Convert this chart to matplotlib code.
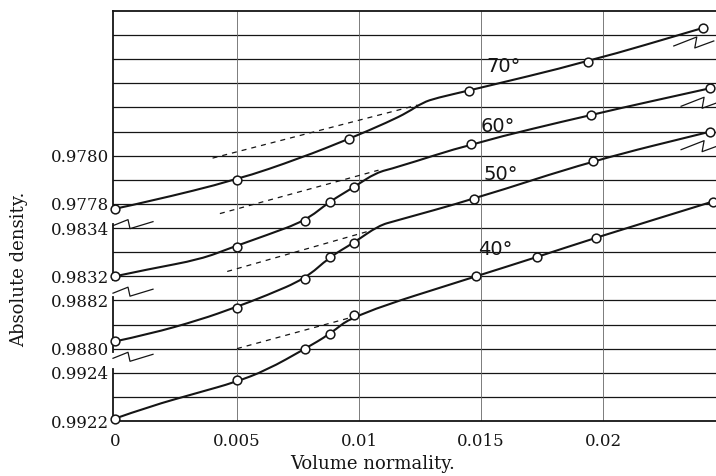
import numpy as np
import matplotlib.pyplot as plt
from matplotlib.path import Path
from matplotlib.patches import PathPatch

# each temperature has its own density scale stacked on one grid
temps = [40, 50, 60, 70]
scale_base = [0.9922, 0.9880, 0.9832, 0.9778]  # density at lowest labelled line of the scale
scale_row = [0, 3, 6, 9]                        # grid row of that line
step = 0.0001                                   # density per grid row

# measured points (open circles)
x40 = [0, 0.005, 0.0078, 0.0088, 0.0098, 0.0148, 0.0173, 0.0197, 0.0245]
d40 = [0.99221, 0.99237, 0.99250, 0.99256, 0.99264, 0.99280, 0.99288, 0.99296, 0.99311]
x50 = [0, 0.005, 0.0078, 0.0088, 0.0098, 0.0147, 0.0196, 0.0244]
d50 = [0.98803, 0.98817, 0.98829, 0.98838, 0.98844, 0.98862, 0.98878, 0.98890]
x60 = [0, 0.005, 0.0078, 0.0088, 0.0098, 0.0146, 0.0195, 0.0244]
d60 = [0.98320, 0.98332, 0.98343, 0.98351, 0.98357, 0.98375, 0.98387, 0.98398]
x70 = [0, 0.005, 0.0096, 0.0145, 0.0194, 0.0241]
d70 = [0.97778, 0.97790, 0.97807, 0.97827, 0.97839, 0.97853]

# drawn curves
cx40 = [0, 0.0014, 0.0035, 0.0049, 0.0062, 0.0078, 0.0088, 0.0098, 0.0148, 0.0173, 0.0197, 0.0245]
cd40 = [0.99221, 0.99226, 0.99232, 0.99236, 0.99241, 0.99250, 0.99256, 0.99264, 0.99280, 0.99288, 0.99296, 0.99311]
cx50 = [0, 0.0014, 0.0035, 0.0049, 0.0062, 0.0078, 0.0088, 0.0098, 0.0108, 0.0115, 0.0147, 0.0196, 0.0244]
cd50 = [0.98803, 0.98806, 0.98812, 0.98817, 0.98822, 0.98829, 0.98838, 0.98844, 0.98851, 0.98853, 0.98862, 0.98878, 0.98890]
cx60 = [0, 0.0014, 0.0035, 0.0048, 0.0062, 0.0078, 0.0088, 0.0098, 0.0107, 0.0115, 0.0146, 0.0195, 0.0244]
cd60 = [0.98320, 0.98323, 0.98327, 0.98332, 0.98337, 0.98343, 0.98351, 0.98357, 0.98363, 0.98365, 0.98375, 0.98387, 0.98398]
cx70 = [0, 0.0014, 0.0050, 0.0076, 0.0096, 0.0112, 0.0120, 0.0126, 0.0132, 0.0145, 0.0194, 0.0241]
cd70 = [0.97778, 0.97781, 0.97790, 0.97799, 0.97807, 0.97814, 0.97818, 0.97822, 0.97824, 0.97827, 0.97839, 0.97853]

# dashed extrapolations of the straight parts
ex40 = [0.0050, 0.0097]
ed40 = [0.99250, 0.99263]
ex50 = [0.0046, 0.0105]
ed50 = [0.98832, 0.98849]
ex60 = [0.0043, 0.0108]
ed60 = [0.98346, 0.98364]
ex70 = [0.0040, 0.0124]
ed70 = [0.97799, 0.97821]

xticks = [0, 0.005, 0.01, 0.015, 0.02]
xticklabels = ["0", "0.005", "0.01", "0.015", "0.02"]

points = [(x40, d40), (x50, d50), (x60, d60), (x70, d70)]
curves = [(cx40, cd40), (cx50, cd50), (cx60, cd60), (cx70, cd70)]
dashes = [(ex40, ed40), (ex50, ed50), (ex60, ed60), (ex70, ed70)]
label_at = [(0.0149, 7.1), (0.0151, 10.2), (0.0150, 12.2), (0.0152, 14.7)]


def to_row(d, i):
    return (np.asarray(d) - scale_base[i]) / step + scale_row[i]


fig = plt.figure(figsize=(7.16, 4.76), dpi=100)
ax = fig.add_axes([113 / 716, 55 / 476, 603 / 716, 410 / 476])
xmin, xmax = -0.00008, 0.02463
ax.set_xlim(xmin, xmax)
ax.set_ylim(0, 17)
px_x = (xmax - xmin) / 603
px_y = 17 / 410

ink = "#151515"

# ruled lines
for r in range(1, 17):
    ax.axhline(r, color=ink, lw=0.9, zorder=1)
for xv in xticks[1:]:
    ax.axvline(xv, color="#666666", lw=0.6, zorder=1)

for s in ["left", "right"]:
    ax.spines[s].set_visible(False)
for s in ["top", "bottom"]:
    ax.spines[s].set_color(ink)
    ax.spines[s].set_linewidth(1.3)

# broken left axis, one piece per scale
for lo, hi in [(0, 2.15), (2.85, 5.15), (5.85, 8.15), (8.85, 17)]:
    ax.plot([xmin, xmin], [lo, hi], color=ink, lw=1.3, clip_on=False, zorder=3)


def zigzag(x0, r0, shape):
    xs = [x0 + sx * px_x for sx, sy in shape]
    ys = [r0 + sy * px_y for sx, sy in shape]
    ax.plot(xs, ys, color=ink, lw=0.9, clip_on=False, zorder=3)


def smooth_curve(xs, ys):
    # hand-drawn look: trace points act as quadratic control points
    pts = list(zip(xs, ys))
    verts = [pts[0]]
    codes = [Path.MOVETO]
    for k in range(1, len(pts) - 1):
        mid = ((pts[k][0] + pts[k + 1][0]) / 2, (pts[k][1] + pts[k + 1][1]) / 2)
        verts += [pts[k], mid]
        codes += [Path.CURVE3, Path.CURVE3]
    verts.append(pts[-1])
    codes.append(Path.LINETO)
    ax.add_patch(PathPatch(Path(verts, codes), fill=False, ec=ink, lw=1.5,
                           zorder=4, clip_on=False))


left_zig = [(0, 0), (15, 6), (17, -3), (40, 4)]
right_zig = [(0, 0), (23, 9), (21, -2), (40, 5)]

for i, t in enumerate(temps):
    cx, cd = curves[i]
    smooth_curve(cx, to_row(cd, i))
    ex, ed = dashes[i]
    ax.plot(ex, to_row(ed, i), color=ink, lw=0.9, ls=(0, (4, 4)), zorder=3)
    px, pd = points[i]
    ax.plot(px, to_row(pd, i), "o", ms=6.3, mfc="white", mec=ink, mew=1.1,
            zorder=5, clip_on=False)
    lx, ly = label_at[i]
    ax.text(lx, ly, f"{t}°", fontsize=14, family="DejaVu Sans", color=ink,
            va="center", ha="left", zorder=6)
    if i > 0:
        zigzag(xmin, to_row(pd[0], i) - 0.7, left_zig)
        zigzag(px[-1] - 0.0012, to_row(pd[-1], i) - 0.75, right_zig)

# tick labels for each stacked scale
yt, ytl = [], []
for i in range(len(temps)):
    for k in (0, 2):
        yt.append(scale_row[i] + k)
        ytl.append(f"{scale_base[i] + k * step:.4f}")
ax.set_yticks(yt)
ax.set_yticklabels(ytl)
ax.set_xticks(xticks)
ax.set_xticklabels(xticklabels)
ax.tick_params(length=0, labelsize=12, colors=ink)
ax.tick_params(axis="y", pad=3)
ax.tick_params(axis="x", pad=9)
for lab in ax.get_xticklabels() + ax.get_yticklabels():
    lab.set_family("DejaVu Serif")

ax.set_xlabel("Volume normality.", family="DejaVu Serif", fontsize=13, color=ink)
ax.xaxis.set_label_coords(0.43, -0.082)
ax.set_ylabel("Absolute density.", family="DejaVu Serif", fontsize=13, color=ink)
ax.yaxis.set_label_coords(-0.14, 0.37)

fig.savefig("out.png", dpi=100)
